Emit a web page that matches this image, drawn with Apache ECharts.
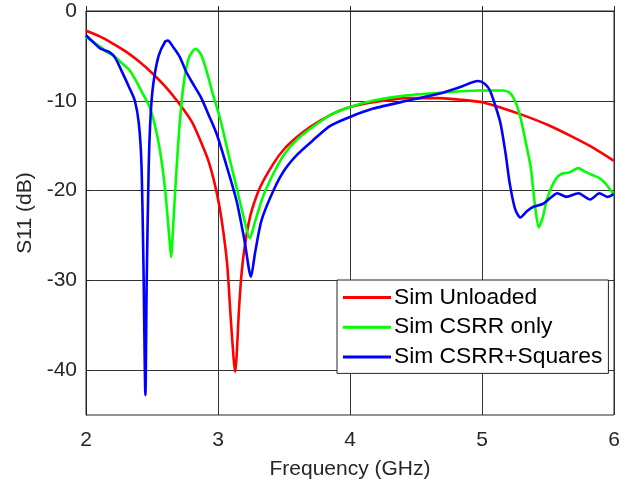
<!DOCTYPE html>
<html>
<head>
<meta charset="utf-8">
<script src="https://cdn.jsdelivr.net/npm/echarts@6/dist/echarts.min.js"></script>
<style>html,body{margin:0;padding:0;background:#fff}#c{width:632px;height:488px}</style>
</head>
<body>
<div id="c"></div>
<script>
const seriesNames = ['Sim Unloaded', 'Sim CSRR only', 'Sim CSRR+Squares'];
const xTicks = [2, 3, 4, 5, 6];
const yTicks = [-40, -30, -20, -10, 0];

const unloaded = [[2.0,-2.2],[2.1,-2.8],[2.2,-3.6],[2.3,-4.5],[2.4,-5.6],[2.5,-6.9],[2.6,-8.4],[2.7,-10.2],[2.8,-12.3],[2.86,-14.2],[2.93,-16.8],[2.99,-20.2],[3.03,-23.5],[3.07,-28.3],[3.10,-35],[3.13,-40.2],[3.16,-33],[3.18,-29],[3.20,-26.5],[3.23,-23.8],[3.26,-22.0],[3.32,-19.6],[3.42,-17.0],[3.5,-15.4],[3.6,-14.0],[3.7,-12.9],[3.85,-11.6],[4.0,-10.7],[4.2,-10.1],[4.43,-9.7],[4.68,-9.7],[4.85,-9.9],[5.01,-10.2],[5.15,-10.8],[5.31,-11.6],[5.5,-12.7],[5.69,-14.05],[5.85,-15.3],[6.0,-16.7]];

const csrrOnly = [[2.0,-2.9],[2.05,-3.4],[2.11,-4.0],[2.16,-4.6],[2.21,-5.0],[2.27,-5.8],[2.33,-6.6],[2.38,-7.8],[2.43,-9.2],[2.48,-10.6],[2.52,-12.6],[2.56,-15.5],[2.6,-20],[2.63,-25],[2.645,-27.4],[2.66,-24],[2.68,-19],[2.71,-12.5],[2.74,-8.1],[2.78,-5.2],[2.83,-4.2],[2.87,-4.8],[2.91,-6.5],[2.96,-9.2],[3.02,-12.2],[3.08,-16],[3.14,-19.6],[3.2,-23.3],[3.24,-25.3],[3.28,-23.5],[3.34,-20.7],[3.42,-18.1],[3.5,-16.0],[3.6,-14.3],[3.72,-12.9],[3.85,-11.6],[4.0,-10.7],[4.17,-10.0],[4.43,-9.4],[4.68,-9.1],[4.98,-8.85],[5.16,-8.85],[5.21,-9.1],[5.25,-10],[5.29,-11.8],[5.33,-14.5],[5.37,-17.5],[5.4,-21.5],[5.43,-24.1],[5.46,-23.0],[5.49,-21.1],[5.53,-19.5],[5.57,-18.5],[5.61,-18.1],[5.66,-18.0],[5.73,-17.5],[5.78,-17.9],[5.84,-18.3],[5.89,-18.6],[5.94,-19.3],[6.0,-20.5]];

const csrrSquares = [[2.0,-2.7],[2.05,-3.4],[2.11,-4.2],[2.18,-4.6],[2.22,-5.2],[2.28,-7.0],[2.33,-8.6],[2.37,-10.0],[2.40,-12.5],[2.42,-17],[2.435,-28],[2.45,-42.8],[2.46,-30],[2.475,-17.4],[2.49,-11.5],[2.51,-8.1],[2.55,-5.0],[2.6,-3.4],[2.62,-3.3],[2.66,-4.0],[2.71,-5.1],[2.76,-6.8],[2.81,-8.1],[2.87,-9.6],[2.93,-11.6],[2.99,-13.7],[3.06,-17],[3.14,-21.1],[3.2,-25.5],[3.25,-29.6],[3.28,-27],[3.33,-23.3],[3.42,-20],[3.5,-17.8],[3.6,-16.0],[3.72,-14.4],[3.85,-12.8],[4.0,-11.8],[4.17,-10.9],[4.43,-10.0],[4.68,-9.2],[4.83,-8.5],[4.97,-7.8],[5.02,-8.1],[5.06,-8.85],[5.1,-10.5],[5.14,-12.5],[5.18,-16],[5.21,-19.2],[5.25,-22],[5.29,-23.0],[5.34,-22.3],[5.39,-21.8],[5.46,-21.5],[5.52,-20.8],[5.57,-20.3],[5.64,-20.7],[5.73,-20.3],[5.82,-21.0],[5.89,-20.3],[5.95,-20.7],[6.0,-20.4]];

const colors = ['#ff0000', '#00ff00', '#0000ff'];
const dataSets = [unloaded, csrrOnly, csrrSquares];
const FONT = 'Liberation Sans, Arial, sans-serif';
const TXT = '#262626';

const chart = echarts.init(document.getElementById('c'), null, {renderer: 'canvas'});
chart.setOption({
  animation: false,
  backgroundColor: '#fff',
  grid: {left: 86, right: 18, top: 11, bottom: 73, show: true, borderColor: '#262626', borderWidth: 1, backgroundColor: 'transparent'},
  legend: {
    orient: 'vertical', left: 337, top: 280,
    backgroundColor: '#fff', borderColor: '#262626', borderWidth: 1,
    padding: [6, 6, 5, 6], itemGap: 6.7, itemWidth: 48, itemHeight: 3,
    icon: 'rect',
    textStyle: {fontFamily: FONT, fontSize: 22.8, color: '#000', padding: [0, 0, 0, -2]},
    data: seriesNames
  },
  xAxis: {
    type: 'value', min: 2, max: 6, interval: 1,
    name: 'Frequency (GHz)', nameLocation: 'middle', nameGap: 44,
    nameTextStyle: {fontFamily: FONT, fontSize: 21, color: TXT},
    axisLine: {show: true, lineStyle: {color: '#262626'}},
    axisTick: {show: true, inside: true, length: 5, lineStyle: {color: '#262626'}},
    axisLabel: {fontFamily: FONT, fontSize: 21, color: TXT, margin: 15, formatter: v => xTicks.includes(v) ? String(v) : ''},
    splitLine: {show: true, lineStyle: {color: '#333', width: 1}}
  },
  yAxis: {
    type: 'value', min: -45, max: 0,
    name: 'S11 (dB)', nameLocation: 'middle', nameGap: 47,
    nameTextStyle: {fontFamily: FONT, fontSize: 21, color: TXT},
    axisLine: {show: true, lineStyle: {color: '#262626'}},
    axisTick: {show: true, inside: true, length: 5, customValues: yTicks, lineStyle: {color: '#262626'}},
    axisLabel: {fontFamily: FONT, fontSize: 21, color: TXT, margin: 9, customValues: yTicks},
    splitLine: {show: true, lineStyle: {color: '#333', width: 1}}
  },
  series: seriesNames.map((n, i) => ({
    name: n, type: 'line', data: dataSets[i], showSymbol: false, symbol: 'none',
    smooth: 0.25, color: colors[i],
    lineStyle: {color: colors[i], width: 2.6}
  }))
});
</script>
</body>
</html>
